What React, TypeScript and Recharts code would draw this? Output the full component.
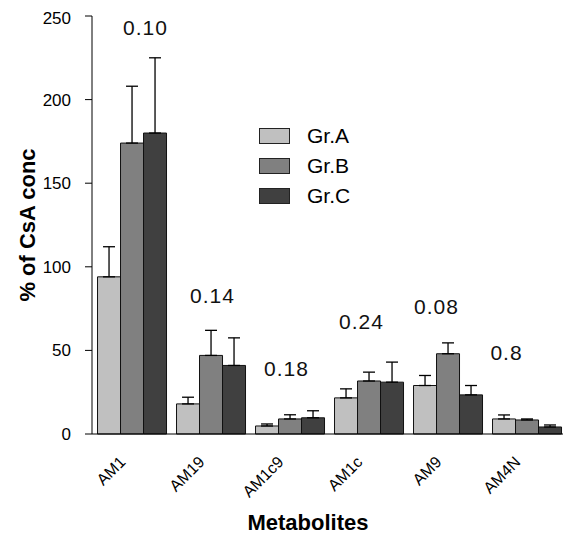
import React from 'react';
import { BarChart, Bar, XAxis, YAxis, ErrorBar, Legend, ReferenceDot } from 'recharts';

const categories = ['AM1', 'AM19', 'AM1c9', 'AM1c', 'AM9', 'AM4N'];
const grA = [94, 18, 4.8, 21.6, 29, 9];
const grB = [174, 47, 9, 31.7, 48, 8.4];
const grC = [180, 41, 9.7, 31, 23.4, 4.2];
const errA = [18, 4, 1.2, 5.4, 6, 2.4];
const errB = [34, 15, 2.5, 5.3, 6.5, 0.6];
const errC = [45, 16.5, 4.2, 12, 5.6, 1.2];
const pLabels = ['0.10', '0.14', '0.18', '0.24', '0.08', '0.8'];
const pLabelLevels = [242.8, 83, 39.2, 67.4, 76.3, 48.5];
const yTicks = [0, 50, 100, 150, 200, 250];
const seriesNames = ['Gr.A', 'Gr.B', 'Gr.C'];

const pLabelDx = [14, 2, -3, -7, -11, -20];
const colors = ['#c0c0c0', '#808080', '#404040'];
const FONT = '"Liberation Sans", Arial, sans-serif';

const data = categories.map((c, i) => ({
  name: c,
  A: grA[i],
  B: grB[i],
  C: grC[i],
  eA: [0, errA[i]],
  eB: [0, errB[i]],
  eC: [0, errC[i]],
}));

const renderXTick = (props: any) => {
  const { x, y, payload } = props;
  const ax = Number(x) - 5;
  const ay = Number(y) + 29;
  return (
    <text
      key={payload.value}
      x={ax}
      y={ay}
      textAnchor="end"
      transform={`rotate(-45 ${ax} ${ay})`}
      style={{ fontSize: 16, fontFamily: FONT, fill: '#000' }}
    >
      {payload.value}
    </text>
  );
};

const LegendContent = () => (
  <div style={{ fontFamily: FONT }}>
    {seriesNames.map((n, i) => (
      <div key={n} style={{ display: 'flex', alignItems: 'center', height: 30 }}>
        <div style={{ width: 29, height: 14, background: colors[i], border: '1px solid #222' }} />
        <span style={{ marginLeft: 17, fontSize: 21, color: '#000' }}>{n}</span>
      </div>
    ))}
  </div>
);

export default function App() {
  return (
    <div style={{ width: 563, height: 527, background: '#fff' }}>
      <BarChart
        width={563}
        height={527}
        data={data}
        margin={{ top: 8, right: 5, left: 0, bottom: 0 }}
        barCategoryGap="7%"
        barGap={0}
      >
        <XAxis
          dataKey="name"
          height={101}
          tickLine={false}
          tickSize={0}
          tickMargin={0}
          axisLine={{ stroke: '#000', strokeWidth: 1 }}
          tick={renderXTick}
          interval={0}
          label={{ value: 'Metabolites', position: 'center', dx: -21, dy: 38, style: { fontSize: 22, fontWeight: 'bold', fontFamily: FONT, fill: '#000' } }}
        />
        <YAxis
          width={84}
          domain={[0, 250]}
          ticks={yTicks}
          tickSize={7}
          tickMargin={14}
          axisLine={{ stroke: '#000', strokeWidth: 1 }}
          tickLine={{ stroke: '#000', strokeWidth: 1 }}
          tick={{ fontSize: 17, fontFamily: FONT, fill: '#000' }}
          label={{ value: '% of CsA conc', angle: -90, position: 'center', dx: -23, style: { fontSize: 22, fontWeight: 'bold', fontFamily: FONT, fill: '#000', textAnchor: 'middle' } }}
        />
        <Legend
          layout="vertical"
          align="center"
          verticalAlign="middle"
          content={<LegendContent />}
          wrapperStyle={{ left: 251, top: 113, width: 'auto' }}
        />
        <Bar dataKey="A" name="Gr.A" fill={colors[0]} stroke="#111" strokeWidth={1} isAnimationActive={false}>
          <ErrorBar dataKey="eA" width={6} stroke="#000" strokeWidth={1.3} direction="y" />
        </Bar>
        <Bar dataKey="B" name="Gr.B" fill={colors[1]} stroke="#111" strokeWidth={1} isAnimationActive={false}>
          <ErrorBar dataKey="eB" width={6} stroke="#000" strokeWidth={1.3} direction="y" />
        </Bar>
        <Bar dataKey="C" name="Gr.C" fill={colors[2]} stroke="#111" strokeWidth={1} isAnimationActive={false}>
          <ErrorBar dataKey="eC" width={6} stroke="#000" strokeWidth={1.3} direction="y" />
        </Bar>
        {categories.map((c, i) => (
          <ReferenceDot
            key={c}
            x={c}
            y={pLabelLevels[i]}
            r={0}
            fill="none"
            stroke="none"
            label={{ value: pLabels[i], position: 'center', dx: pLabelDx[i], style: { fontSize: 21, fontFamily: FONT, fill: '#111', letterSpacing: 1 } }}
          />
        ))}
      </BarChart>
    </div>
  );
}
